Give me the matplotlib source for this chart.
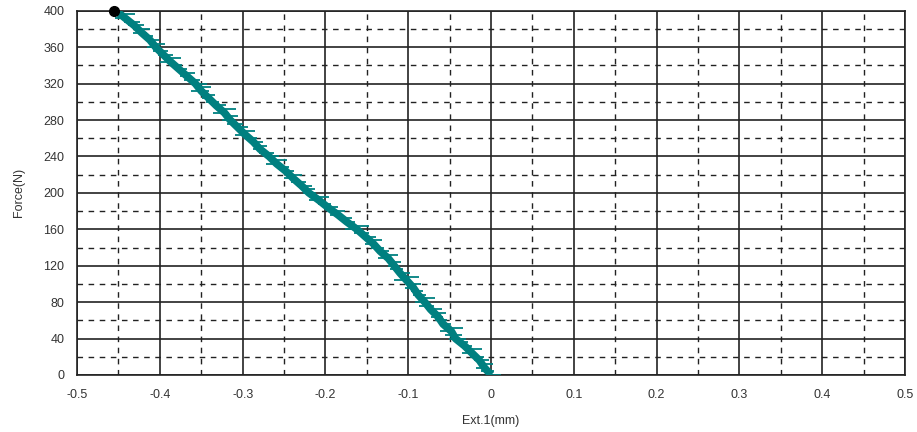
import numpy as np
import matplotlib.pyplot as plt
from matplotlib.ticker import MultipleLocator, FuncFormatter

plt.rcParams['font.family'] = ['Liberation Sans', 'DejaVu Sans']

force = [0, 8, 16, 24, 32, 40, 48, 56, 64, 72, 80, 88, 96, 104, 112, 120,
         128, 136, 144, 152, 160, 168, 176, 184, 192, 200, 208, 216, 224,
         232, 240, 248, 256, 264, 272, 280, 288, 296, 304, 312, 320, 328,
         336, 344, 352, 360, 368, 376, 384, 392, 400]
ext = [0.000, -0.008, -0.014, -0.023, -0.032, -0.043, -0.048, -0.058,
       -0.064, -0.073, -0.080, -0.088, -0.094, -0.102, -0.110, -0.117,
       -0.124, -0.134, -0.142, -0.152, -0.162, -0.174, -0.185, -0.197,
       -0.208, -0.220, -0.229, -0.239, -0.248, -0.259, -0.268, -0.279,
       -0.287, -0.297, -0.306, -0.315, -0.322, -0.332, -0.341, -0.350,
       -0.357, -0.367, -0.377, -0.387, -0.396, -0.405, -0.412, -0.422,
       -0.431, -0.442, -0.453]
# horizontal noise spikes around the trace (mm, to left / right)
spike_l = [0.004, 0.010, 0.006, 0.012, 0.004, 0.008, 0.014, 0.005,
           0.009, 0.004, 0.012, 0.006, 0.010, 0.015, 0.004, 0.008,
           0.012, 0.005, 0.010, 0.004, 0.014, 0.006, 0.009, 0.004,
           0.012, 0.007, 0.005, 0.011, 0.004, 0.013, 0.006, 0.009,
           0.004, 0.012, 0.006, 0.010, 0.014, 0.004, 0.008, 0.012,
           0.005, 0.009, 0.004, 0.013, 0.006, 0.011, 0.004, 0.010,
           0.007, 0.012, 0.004]
spike_r = [0.012, 0.005, 0.011, 0.004, 0.009, 0.013, 0.004, 0.010,
           0.006, 0.014, 0.004, 0.009, 0.005, 0.004, 0.012, 0.006,
           0.004, 0.011, 0.005, 0.013, 0.004, 0.010, 0.006, 0.012,
           0.004, 0.009, 0.013, 0.004, 0.010, 0.005, 0.012, 0.004,
           0.011, 0.005, 0.013, 0.004, 0.006, 0.012, 0.004, 0.009,
           0.014, 0.004, 0.010, 0.005, 0.012, 0.004, 0.011, 0.006,
           0.012, 0.004, 0.003]
end_pt = (-0.455, 400)

fig = plt.figure(figsize=(9.17, 4.32), dpi=100)
ax = fig.add_axes([0.084, 0.132, 0.903, 0.843])

ax.set_xlim(-0.5, 0.5)
ax.set_ylim(0, 400)
ax.xaxis.set_major_locator(MultipleLocator(0.1))
ax.xaxis.set_minor_locator(MultipleLocator(0.05))
ax.yaxis.set_major_locator(MultipleLocator(40))
ax.yaxis.set_minor_locator(MultipleLocator(20))
ax.xaxis.set_major_formatter(FuncFormatter(lambda v, p: '0' if abs(v) < 1e-9 else f'{v:.1f}'))

ax.grid(which='major', color='#222222', linestyle='-', linewidth=1.2)
ax.grid(which='minor', color='#222222', linestyle=(0, (4, 4)), linewidth=1.0)
ax.tick_params(which='both', length=0, labelsize=9, colors='#333333')
ax.tick_params(axis='x', pad=10)
ax.tick_params(axis='y', pad=9)
for s in ax.spines.values():
    s.set_linewidth(1.2)
    s.set_color('#222222')

teal = '#008080'
ax.plot(ext, force, color=teal, linewidth=5.5, solid_capstyle='butt', zorder=3)
ax.errorbar(ext, force, xerr=[spike_l, spike_r], fmt='none', ecolor=teal,
            elinewidth=1.3, capsize=0, zorder=3)
ax.errorbar(ext[:-1], [f + 4 for f in force[:-1]], xerr=[spike_r[:-1], spike_l[:-1]],
            fmt='none', ecolor=teal, elinewidth=1.3, capsize=0, zorder=3)
ax.plot([end_pt[0]], [end_pt[1]], 'o', color='black', markersize=7, zorder=4, clip_on=False)

ax.set_xlabel('Ext.1(mm)', fontsize=9, color='#333333', labelpad=10)
ax.set_ylabel('Force(N)', fontsize=9, color='#333333', labelpad=13)

fig.savefig('out.png', dpi=100)
